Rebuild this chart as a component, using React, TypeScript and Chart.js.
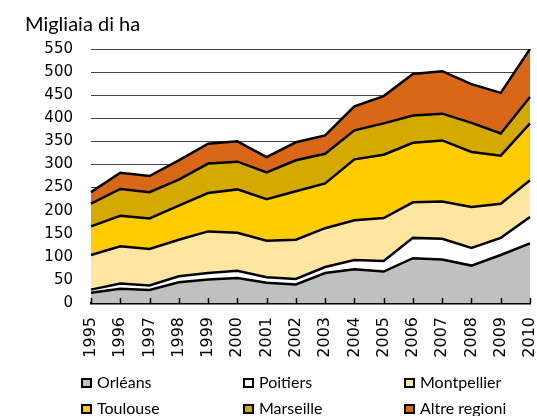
import React, { useEffect, useRef } from "react";
import { Chart, registerables } from "chart.js";

Chart.register(...registerables);

const years = ["1995","1996","1997","1998","1999","2000","2001","2002","2003","2004","2005","2006","2007","2008","2009","2010"];
const orleans = [22,31,28,45,51,54,44,40,65,73,68,97,94,81,104,129];
const poitiers = [7,11,10,13,14,16,12,12,13,20,23,44,45,38,37,57];
const montpellier = [75,81,79,79,90,82,79,85,84,86,93,77,81,89,74,80];
const toulouse = [62,66,66,74,83,94,90,105,97,132,137,129,132,119,104,123];
const marseille = [49,58,57,56,64,60,58,67,64,63,68,59,58,63,48,57];
const altre = [25,35,35,42,43,44,33,39,40,52,59,90,92,84,88,104];

const seriesNames = ["Orléans","Poitiers","Montpellier","Toulouse","Marseille","Altre regioni"];
const seriesColors = ["#C0C0C0","#FFFFFF","#FFE6A0","#FFCC00","#D4AA00","#D86818"];
const yTicks = [0,50,100,150,200,250,300,350,400,450,500,550];
const yTitle = "Migliaia di ha";

const overlay = {
  id: "overlay",
  afterDatasetsDraw(chart: any) {
    const ctx = chart.ctx;
    const x = chart.scales.x;
    const area = chart.chartArea;
    ctx.save();
    ctx.strokeStyle = "#000";
    ctx.lineWidth = 1.5;
    for (let i = 0; i < years.length; i++) {
      const px = Math.round(x.getPixelForValue(i)) + 0.5;
      ctx.beginPath();
      ctx.moveTo(px, area.bottom);
      ctx.lineTo(px, area.bottom - 5);
      ctx.stroke();
    }
    ctx.restore();
  },
  afterDraw(chart: any) {
    const ctx = chart.ctx;
    ctx.save();
    ctx.fillStyle = "#000";
    ctx.textBaseline = "alphabetic";
    ctx.textAlign = "left";
    ctx.font = "20px Lato";
    ctx.fillText(yTitle, 25, 31);
    ctx.font = "16px Lato";
    const cols = [81, 243, 404];
    const rows = [378, 404];
    for (let i = 0; i < seriesNames.length; i++) {
      const bx = cols[i % 3];
      const by = rows[Math.floor(i / 3)];
      ctx.fillStyle = "#000";
      ctx.fillRect(bx, by, 11, 10);
      ctx.fillStyle = seriesColors[i];
      ctx.fillRect(bx + 2, by + 2, 7, 6);
      ctx.fillStyle = "#000";
      ctx.fillText(seriesNames[i], bx + 16, by + 10);
    }
    ctx.restore();
  },
};

export default function App() {
  const ref = useRef<HTMLCanvasElement>(null);
  useEffect(() => {
    document.body.style.margin = "0";
    const values = [orleans, poitiers, montpellier, toulouse, marseille, altre];
    const chart = new Chart(ref.current!, {
      type: "line",
      data: {
        labels: years,
        datasets: values.map((v, i) => ({
          label: seriesNames[i],
          data: v,
          backgroundColor: seriesColors[i],
          borderColor: "#000",
          borderWidth: 2.5,
          pointRadius: 0,
          tension: 0,
          fill: i === 0 ? "origin" : "-1",
        })),
      },
      options: {
        animation: false,
        responsive: false,
        layout: { padding: { top: 49, right: 7, left: 0, bottom: 0 } },
        plugins: { legend: { display: false }, tooltip: { enabled: false } },
        scales: {
          x: {
            offset: false,
            afterFit: (s: any) => { s.height = 113; s.paddingLeft = 0; s.paddingRight = 0; },
            grid: { display: false, drawTicks: false },
            border: { display: true, color: "#000", width: 2.5 },
            ticks: {
              minRotation: 90,
              maxRotation: 90,
              padding: 14,
              color: "#000",
              font: { family: "DejaVu Sans", size: 16 },
              autoSkip: false,
            },
          },
          y: {
            stacked: true,
            min: 0,
            max: 550,
            afterFit: (s: any) => { s.width = 91; s.paddingTop = 0; s.paddingBottom = 0; },
            afterBuildTicks: (s: any) => { s.ticks = yTicks.map((v) => ({ value: v })); },
            grid: { color: "#444", lineWidth: 1, drawTicks: false },
            border: { display: false },
            ticks: {
              padding: 18,
              color: "#000",
              font: { family: "DejaVu Sans", size: 15 },
            },
          },
        },
      },
      plugins: [overlay],
    });
    return () => chart.destroy();
  }, []);
  return (
    <div style={{ width: 537, height: 416 }}>
      <canvas ref={ref} width={537} height={416} />
    </div>
  );
}
